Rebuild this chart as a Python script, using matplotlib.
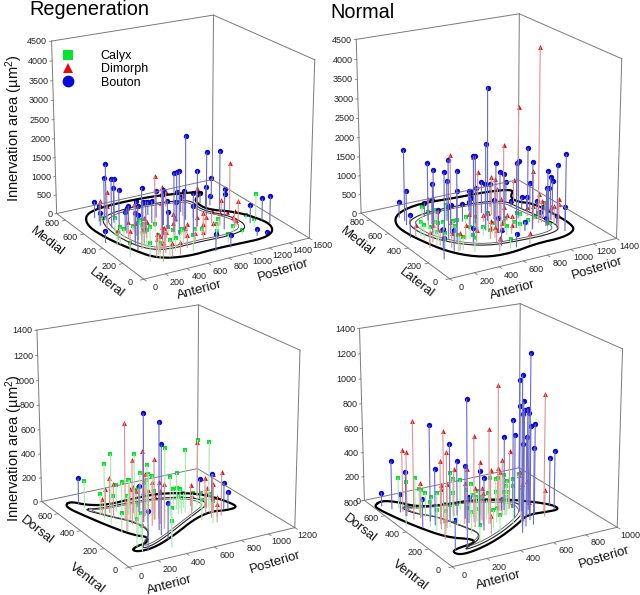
"""
Area di innervazione nei quattro pannelli 3D (Regeneration / Normal),
con i tre tipi di terminale e il contorno del nucleo sul pavimento.
"""
import numpy as np
import matplotlib
matplotlib.use('Agg')
import matplotlib.pyplot as plt
from matplotlib.lines import Line2D
from mpl_toolkits.mplot3d import proj3d

plt.rcParams['font.family'] = ['Liberation Sans', 'DejaVu Sans']
plt.rcParams['mathtext.default'] = 'regular'

# ===================== DATI: Regeneration, vista orizzontale =====================
reg_bouton_x = [901,1112,1247,307,290,268,386,336,341,468,706,684,812,685,914,1376,1210,1079,1299,1255,979,1205,785,873,680,521,964,669,362,239,239,203,432,322,353,333,574,458,672,614,954,771,260,236,678,1343,1465,1489,1246,1342,927,781,70,806]
reg_bouton_y = [500,500,500,700,700,600,700,650,600,500,600,400,500,350,400,700,600,300,500,600,500,650,400,700,500,350,650,450,450,750,700,650,600,500,550,400,600,450,650,550,600,300,350,300,450,300,300,250,150,150,100,100,450,500]
reg_bouton_z = [2222,1671,1635,1479,1123,1278,1056,915,966,1108,718,1539,1314,1666,1472,501,516,1059,444,262,665,269,1001,468,837,1153,453,742,920,431,424,345,477,660,462,894,500,842,356,584,411,797,846,903,448,481,589,720,170,35,332,439,320,540]
reg_dimorph_x = [1351,596,762,271,250,223,393,560,924,1012,903,1265,1275,1183,1090,1267,1059,975,896,856,779,642,519,439,473,402,366,289,306,489,418,346,273,210,193,562,677,758,690,870,1024,1226,1198,609,735,817,300,415,491,297,368]
reg_dimorph_y = [500,500,600,650,700,600,500,400,550,500,700,500,350,300,350,450,400,400,300,350,500,350,350,250,300,200,250,450,400,500,400,350,300,350,450,350,400,350,300,300,350,350,300,200,250,250,120,150,150,180,220]
reg_dimorph_z = [1250,1347,779,859,536,611,724,828,561,793,405,315,556,418,331,72,307,317,448,384,227,471,332,519,321,533,434,415,458,297,435,437,492,418,262,308,224,254,271,270,121,153,179,333,207,196,472,339,328,472,414]
reg_calyx_x = [1456,1356,1329,1151,1116,956,1019,949,895,218,209,163,247,134,378,115,402,369,344,321,401,547,205,333,299,392,497,627,576,708,622,735,854,615,338,283,590]
reg_calyx_y = [350,350,250,200,250,150,300,250,200,650,500,400,450,400,500,250,450,400,350,300,350,450,150,200,150,150,200,400,300,350,250,250,300,150,400,300,250]
reg_calyx_z = [625,123,207,126,172,222,317,319,271,195,486,443,252,306,156,362,392,373,508,459,403,200,477,511,415,442,321,171,301,163,366,312,159,429,454,440,338]
reg_outer_x = [1385,1170,897,564,314,182,104,125,202,287,514,814,1037,1262,1414,1487,1446,1357,1181,1184,1258]
reg_outer_y = [771,818,857,865,847,792,669,497,310,171,114,124,117,110,153,247,362,469,562,679,734]
reg_inner_x = [253,404,654,967,1180,1125,1297,1286,1084,768,441,289,214]
reg_inner_y = [707,765,782,754,710,573,414,266,219,233,230,302,491]

# ===================== DATI: Normal, vista orizzontale =====================
nor_bouton_x = [755,649,213,189,207,371,377,287,363,382,385,492,335,363,491,546,396,335,582,767,604,726,700,567,502,650,791,736,912,736,863,854,1054,811,868,978,1108,960,1128,1103,1147,1054,1144,1152,1092,1166,1233,1180,1099,1128,1251,1149,99,205,127,252,455,713,602,682,896,1124,1079,1175]
nor_bouton_y = [500,400,700,650,750,650,600,500,600,700,500,600,400,350,500,650,450,500,550,700,500,650,600,400,350,500,600,500,650,400,500,450,650,500,350,450,500,300,500,550,550,600,450,400,300,350,400,400,300,250,300,200,500,300,200,250,300,350,200,150,300,400,300,300]
nor_bouton_z = [3445,2237,1867,907,423,1506,1415,1278,622,380,1506,1055,2023,1805,969,252,736,570,465,423,874,261,465,1168,2097,1771,829,972,603,1680,1213,1240,584,502,1702,1509,1694,1730,750,308,289,145,343,286,1424,1131,916,749,986,1639,1769,617,594,539,535,557,390,360,406,347,217,168,206,186]
nor_dimorph_x = [1109,1211,848,480,634,581,833,771,749,735,1123,1065,964,809,332,324,553,718,671,1189,1143,1151,1176,1176,1089,1064,1058,144,203,137,222,395,275,300,435,483,691,601,542,741,881,880,781,796,638,606]
nor_dimorph_y = [400,700,450,550,500,400,550,450,400,350,650,350,300,400,600,500,450,500,400,300,250,300,350,400,350,400,450,500,400,350,350,450,300,250,350,300,400,300,150,350,450,400,300,150,300,250]
nor_dimorph_z = [4406,2408,1994,1800,1747,1551,1012,1179,1016,842,587,767,1509,511,689,558,408,171,432,646,635,477,357,403,551,349,244,298,450,405,406,315,371,460,378,315,221,267,333,217,155,207,232,277,286,308]
nor_calyx_x = [321,293,390,523,481,187,172,181,263,250,333,455,446,566,601,807,815,1011,947,896,973,1079,1109,1216,1116,1045,346,286,327,455,380,584,596,664,764,738,632,857,853,195,220,472]
nor_calyx_y = [650,550,600,650,600,500,450,400,450,400,450,500,450,500,450,550,400,500,400,300,350,400,400,450,300,250,350,250,250,300,200,350,300,350,350,300,150,350,300,350,300,350]
nor_calyx_z = [377,464,365,306,319,365,374,408,403,479,357,197,320,232,303,87,207,21,231,241,143,66,134,245,46,179,420,404,319,201,348,231,233,265,241,223,238,178,217,377,409,312]
nor_outer_x = [1266,1049,756,480,270,154,104,156,236,384,584,846,1074,1224,1264,1260,1235,1144,1152]
nor_outer_y = [795,835,843,866,821,739,613,405,239,127,104,141,138,186,270,417,578,642,715]
nor_inner_x = [204,323,498,786,1073,1096,1139,1167,1052,769,508,324,208]
nor_inner_y = [661,726,747,742,695,558,414,256,205,210,234,342,501]

# ===================== DATI: Regeneration, vista verticale =====================
reg2_bouton_x = [191,414,436,406,469,927,972,967,999,409,221]
reg2_bouton_y = [650,350,250,200,450,450,400,300,300,150,100]
reg2_bouton_z = [216,877,865,724,219,164,230,224,140,293,313]
reg2_dimorph_x = [323,362,331,491,470,295,281,265,240,359,359,427,407,493,431,524,474,489,497,937,810,871,884,830,886,880,898,825,867,818,723,248]
reg2_dimorph_y = [400,300,350,350,400,500,450,500,500,400,350,450,350,400,300,350,250,300,350,480,400,350,350,300,300,300,250,250,250,200,300,300]
reg2_dimorph_z = [793,617,524,497,347,289,279,204,127,251,269,215,250,211,356,298,366,266,188,453,177,250,170,175,230,318,358,174,165,150,169,244]
reg2_calyx_x = [194,226,216,221,280,344,385,391,442,391,439,476,494,568,571,462,420,434,382,255,534,211,187,284,261,181,523,722,704,610,435,371,861,901,725,705,730,671,695,756,778,841,752,861,787]
reg2_calyx_y = [600,500,450,400,450,500,500,450,500,400,350,450,400,450,500,400,400,450,450,300,400,300,150,250,200,100,300,350,400,350,150,80,400,350,450,400,400,350,350,400,350,350,250,300,200]
reg2_calyx_z = [224,173,459,568,181,218,235,282,239,527,458,323,342,279,209,279,248,192,159,246,189,158,219,240,214,203,605,520,303,322,244,210,537,542,127,176,160,161,131,121,147,136,166,158,183]
reg2_outer_x = [117,169,229,342,549,748,942,1024,1072,1061,978,872,707,506,294,168,134,192,266,323,256,193,139,98]
reg2_outer_y = [676,686,623,582,589,584,515,438,331,293,288,310,270,187,114,105,133,157,162,213,257,377,513,629]
reg2_inner_x = [167,277,521,730,906,937,829,669,470,289,185,381,359,269]
reg2_inner_y = [594,563,558,536,477,389,344,282,200,134,124,250,374,467]

# ===================== DATI: Normal, vista verticale =====================
nor2_bouton_x = [685,674,696,644,660,610,669,564,716,655,591,650,716,586,600,527,633,852,843,193,178,264,75,97,44,95,99,174,342,357,375,365,345,108,584]
nor2_bouton_y = [300,350,400,300,350,250,300,200,350,400,300,250,300,200,400,150,200,350,300,150,450,400,650,550,700,600,400,400,450,400,300,250,350,130,400]
nor2_bouton_z = [1293,1103,1036,927,860,896,865,899,791,724,674,761,729,720,597,705,618,393,478,1132,773,632,395,359,116,156,237,452,441,434,445,424,213,242,96]
nor2_dimorph_x = [525,777,112,226,432,376,110,103,633,211,207,411,334,550,323,561,442,574,700,747,596,152,319,245,247,177,347,425,743,684,131,373,397,658]
nor2_dimorph_y = [350,300,500,400,300,350,600,550,400,350,400,350,350,350,450,400,300,400,400,400,250,500,350,450,400,350,300,350,250,300,250,200,300,350]
nor2_dimorph_z = [1061,956,795,745,759,693,505,522,475,614,511,474,445,453,389,360,436,322,288,199,309,285,333,277,314,324,314,262,217,104,152,148,261,305]
nor2_calyx_x = [116,130,185,178,157,182,217,219,33,300,317,396,396,392,439,285,200,230,274,172,144,150,296,408,392,454,501,586,584,584,633,636,616,691,730,574,658,627,564,579,666,635,268,290,367,422,479,426,545,630,454]
nor2_calyx_y = [650,600,600,550,500,500,500,450,450,450,450,500,450,400,400,400,350,350,350,300,400,350,300,400,350,400,400,450,500,450,500,450,400,450,450,350,400,400,350,350,350,300,150,250,300,250,300,200,250,300,350]
nor2_calyx_z = [247,239,256,197,229,199,155,217,161,359,306,243,197,275,205,231,198,182,179,185,203,166,170,180,202,148,167,119,212,230,199,253,237,200,229,235,179,146,195,148,178,178,141,174,140,149,116,139,146,146,156]
nor2_outer_x = [22,80,145,208,346,509,690,800,870,867,787,672,552,361,206,102,87,148,234,263,151,80,35,8]
nor2_outer_y = [730,758,715,622,579,571,499,416,341,287,291,305,231,140,92,83,130,149,157,193,266,427,574,693]
nor2_inner_x = [121,220,411,588,720,699,587,419,254,136,273,328,295,238,149]
nor2_inner_y = [661,608,583,534,453,355,277,190,130,117,171,234,329,482,562]

# limiti e tick degli assi
Z_TOP = 4500
Z_TICKS_TOP = list(range(0, 5000, 500))
Z_BOT = 1400
Z_TICKS_BOT = list(range(0, 1600, 200))

# ===================== STILE =====================
W, H = 640, 595
COL = {'Calyx': '#05e52d', 'Dimorph': '#e60a0a', 'Bouton': '#0808d8'}
STEM = {'Calyx': '#a8eaac', 'Dimorph': '#dc9494', 'Bouton': '#6a6ac8'}
MARK = {'Calyx': 's', 'Dimorph': '^', 'Bouton': 'o'}
SIZE = {'Calyx': 11, 'Dimorph': 12, 'Bouton': 15}
BOX = '#7a7a7a'
# camera di ogni pannello: elev, azim, focale, aspetto y, aspetto z, scala (px/unita'), centro x, centro y
CAM_A = (20.105, -120.515, 0.918, 0.976, 0.983, 1702.1, 180.6, 139.7)
CAM_B = (19.692, -120.327, 0.949, 0.989, 0.982, 1719.5, 486.4, 138.9)
CAM_C = (19.804, -120.043, 0.946, 0.997, 0.981, 1704.4, 165.8, 428.8)
CAM_D = (19.705, -119.991, 0.927, 1.012, 0.990, 1708.4, 488.2, 427.7)
# ===============================================================


def smooth_closed(x, y, passes=2):
    # corner cutting: il contorno e' letto a punti, lo arrotondo un po'
    p = np.column_stack([x, y]).astype(float)
    for _ in range(passes):
        q = np.roll(p, -1, axis=0)
        p = np.column_stack([0.75 * p + 0.25 * q, 0.25 * p + 0.75 * q]).reshape(-1, 2)
    p = np.vstack([p, p[0]])
    return p[:, 0], p[:, 1]


def tick_text(ax, x, y, z, s, ha='center'):
    # testo 2D nel punto proiettato, cosi' il bbox e' quello vero
    px, py, _ = proj3d.proj_transform(x, y, z, ax.get_proj())
    ax.text2D(px, py, s, transform=ax.transData, fontsize=6.5, color='#222222',
              ha=ha, va='center')


def draw_box(ax, xmax, ymax, zmax, xticks, yticks, zticks):
    edges = [([0, xmax], [0, 0], [0, 0]), ([0, 0], [0, ymax], [0, 0]),
             ([0, xmax], [ymax, ymax], [0, 0]), ([xmax, xmax], [0, ymax], [0, 0]),
             ([0, 0], [ymax, ymax], [0, zmax]), ([xmax, xmax], [ymax, ymax], [0, zmax]),
             ([xmax, xmax], [0, 0], [0, zmax]), ([0, xmax], [ymax, ymax], [zmax, zmax]),
             ([xmax, xmax], [0, ymax], [zmax, zmax])]
    for ex, ey, ez in edges:
        ax.plot(ex, ey, ez, color=BOX, lw=0.7)
    for t in xticks:
        ax.plot([t, t], [0, -0.025 * ymax], [0, 0], color=BOX, lw=0.6)
        tick_text(ax, t, -0.12 * ymax, 0, str(t))
    for t in yticks:
        ax.plot([0, -0.02 * xmax], [t, t], [0, 0], color=BOX, lw=0.6)
        tick_text(ax, -0.08 * xmax, t, 0, str(t))
    for t in zticks:
        ax.plot([0, -0.012 * xmax], [ymax, ymax], [t, t], color=BOX, lw=0.6)
        tick_text(ax, -0.025 * xmax, ymax, t, str(t), ha='right')


def panel(cam, xmax, ymax, zmax, xticks, yticks, zticks, outer, inner, series):
    elev, azim, focal, asp_y, asp_z, scale, cx, cy = cam
    # la vista di Axes3D va da -0.095 a 0.09
    ax = fig.add_axes([(cx - 0.095 * scale) / W, 1 - (cy + 0.095 * scale) / H,
                       0.185 * scale / W, 0.185 * scale / H], projection='3d')
    ax.computed_zorder = False
    ax.set_facecolor('none')
    ax.set_axis_off()
    ax.set_proj_type('persp', focal_length=focal)
    ax.view_init(elev=elev, azim=azim)
    ax.set_box_aspect((1, asp_y, asp_z))
    ax.set_xlim(0, xmax, view_margin=0)
    ax.set_ylim(0, ymax, view_margin=0)
    ax.set_zlim(0, zmax, view_margin=0)
    ax.set_xticks([])
    ax.set_yticks([])
    ax.set_zticks([])

    draw_box(ax, xmax, ymax, zmax, xticks, yticks, zticks)

    ox, oy = smooth_closed(*outer)
    ax.plot(ox, oy, np.zeros_like(ox), color='black', lw=1.6)
    ix, iy = smooth_closed(*inner)
    ax.plot(ix, iy, np.zeros_like(ix), color='#222222', lw=0.8)
    mx, my = ix.mean(), iy.mean()
    ax.plot(mx + 0.92 * (ix - mx), my + 0.92 * (iy - my), np.zeros_like(ix),
            color='#555555', lw=0.6)

    for name, (x, y, z) in series:
        stems = ax.stem(x, y, z, linefmt='-', markerfmt=' ', basefmt=' ')
        plt.setp(stems.stemlines, color=STEM[name], lw=0.8)
    for name, (x, y, z) in series:
        ax.scatter(x, y, z, c=COL[name], marker=MARK[name], s=SIZE[name],
                   linewidths=0, depthshade=False)
    return ax


def label(xy, text, rot, size=9.5):
    fig.text(xy[0] / W, 1 - xy[1] / H, text, rotation=rot, fontsize=size,
             ha='center', va='center', rotation_mode='anchor', color='#111111')


fig = plt.figure(figsize=(W / 100, H / 100), dpi=100)

panel(CAM_A, 1600, 900, Z_TOP, list(range(0, 1800, 200)), [0, 200, 400, 600, 800],
      Z_TICKS_TOP, (reg_outer_x, reg_outer_y), (reg_inner_x, reg_inner_y),
      [('Calyx', (reg_calyx_x, reg_calyx_y, reg_calyx_z)),
       ('Dimorph', (reg_dimorph_x, reg_dimorph_y, reg_dimorph_z)),
       ('Bouton', (reg_bouton_x, reg_bouton_y, reg_bouton_z))])
panel(CAM_B, 1400, 900, Z_TOP, list(range(0, 1600, 200)), [0, 200, 400, 600, 800],
      Z_TICKS_TOP, (nor_outer_x, nor_outer_y), (nor_inner_x, nor_inner_y),
      [('Calyx', (nor_calyx_x, nor_calyx_y, nor_calyx_z)),
       ('Dimorph', (nor_dimorph_x, nor_dimorph_y, nor_dimorph_z)),
       ('Bouton', (nor_bouton_x, nor_bouton_y, nor_bouton_z))])
panel(CAM_C, 1200, 750, Z_BOT, list(range(0, 1400, 200)), [0, 200, 400, 600],
      Z_TICKS_BOT, (reg2_outer_x, reg2_outer_y), (reg2_inner_x, reg2_inner_y),
      [('Calyx', (reg2_calyx_x, reg2_calyx_y, reg2_calyx_z)),
       ('Dimorph', (reg2_dimorph_x, reg2_dimorph_y, reg2_dimorph_z)),
       ('Bouton', (reg2_bouton_x, reg2_bouton_y, reg2_bouton_z))])
panel(CAM_D, 1000, 800, Z_BOT, list(range(0, 1200, 200)), [0, 200, 400, 600, 800],
      Z_TICKS_BOT, (nor2_outer_x, nor2_outer_y), (nor2_inner_x, nor2_inner_y),
      [('Calyx', (nor2_calyx_x, nor2_calyx_y, nor2_calyx_z)),
       ('Dimorph', (nor2_dimorph_x, nor2_dimorph_y, nor2_dimorph_z)),
       ('Bouton', (nor2_bouton_x, nor2_bouton_y, nor2_bouton_z))])

# titoli ed etichette
fig.text(29 / W, 1 - 15 / H, 'Regeneration', fontsize=14.3, color='black')
fig.text(330 / W, 1 - 18 / H, 'Normal', fontsize=14.3, color='black')
ylab = 'Innervation area (µm$^{2}$)'
label((14, 128), ylab, 90, 10.5)
label((14, 448), ylab, 90, 10.5)
label((47, 242), 'Medial', -38)
label((107, 283), 'Lateral', -38)
label((200, 290), 'Anterior', 15)
label((283, 270), 'Posterior', 17)
label((357, 242), 'Medial', -38)
label((417, 283), 'Lateral', -38)
label((513, 290), 'Anterior', 15)
label((597, 268), 'Posterior', 17)
label((37, 530), 'Dorsal', -38)
label((87, 578), 'Ventral', -38)
label((170, 585), 'Anterior', 15)
label((275, 562), 'Posterior', 17)
label((360, 528), 'Dorsal', -38)
label((410, 575), 'Ventral', -38)
label((499, 580), 'Anterior', 15)
label((604, 557), 'Posterior', 17)

handles = [Line2D([], [], ls='none', marker=MARK[n], color=COL[n], ms=ms, mew=0)
           for n, ms in [('Calyx', 7), ('Dimorph', 7.5), ('Bouton', 8.5)]]
fig.legend(handles, ['Calyx', 'Dimorph', 'Bouton'], loc='upper left',
           bbox_to_anchor=(62 / W, 1 - 50 / H), frameon=False, fontsize=9,
           handlelength=1, handletextpad=2.1, labelspacing=0.1,
           borderpad=0, borderaxespad=0)

fig.savefig('out.png', dpi=100)
